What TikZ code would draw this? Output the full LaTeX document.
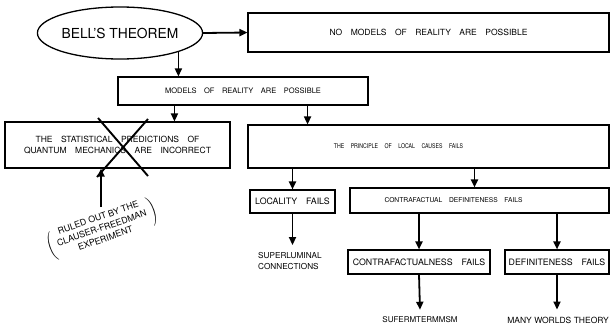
\documentclass[tikz,border=0pt]{standalone}
\usepackage{fontspec}
\setsansfont{TeX Gyre Heros}
\usetikzlibrary{arrows.meta, shapes.geometric}

\newcommand\widesp{\spaceskip 1em\relax}
\tikzset{
  boxtxt/.style={font={\sffamily\fontsize{#1}{#1}\selectfont\widesp}},
  plaintxt/.style={font={\sffamily\fontsize{#1}{#1}\selectfont}},
  narrowtxt/.style={font={\sffamily\addfontfeature{FakeStretch=0.8}\fontsize{#1}{#1}\selectfont\widesp}},
  flowbox/.style={draw, line width=1.1pt, inner sep=0pt},
  arr/.style={line width=1.8pt, -{Triangle[length=8pt,width=7pt]}},
}

\begin{document}
\begin{tikzpicture}[x=1pt, y=-1pt]
  \useasboundingbox (0,0) rectangle (610,327);

  % --- top: theorem and the two alternatives ---
  \node[ellipse, draw, line width=1.3pt, minimum width=145pt, minimum height=52pt, inner sep=0pt,
        plaintxt=13.8] (bell) at (120,33) {BELL'S THEOREM};
  \node[flowbox, boxtxt=8.5, minimum width=361pt, minimum height=39pt] (nomodels) at (428.5,32.5)
    {NO MODELS OF REALITY ARE POSSIBLE};
  \node[flowbox, boxtxt=7.5, minimum width=250pt, minimum height=28pt] (models) at (243,91)
    {MODELS OF REALITY ARE POSSIBLE};

  % --- middle row ---
  \node[flowbox, boxtxt=8.5, align=center, minimum width=225pt, minimum height=46pt] (stat) at (117.5,145)
    {THE STATISTICAL PREDICTIONS OF\\[3pt]QUANTUM MECHANICS ARE INCORRECT};
  \node[flowbox, narrowtxt=6.5, minimum width=361pt, minimum height=43pt] (principle) at (428.5,146.5)
    {THE PRINCIPLE OF LOCAL CAUSES FAILS\hspace*{60pt}};

  % --- lower rows ---
  \node[flowbox, boxtxt=8.8, minimum width=85pt, minimum height=23pt] (locality) at (292.5,201.5)
    {LOCALITY FAILS};
  \node[flowbox, boxtxt=6.7, minimum width=259pt, minimum height=25pt] (cd) at (479.5,200.5)
    {CONTRAFACTUAL DEFINITENESS FAILS\hspace*{52pt}};
  \node[flowbox, boxtxt=8.8, minimum width=142pt, minimum height=24pt] (contra) at (419,262)
    {CONTRAFACTUALNESS FAILS};
  \node[flowbox, boxtxt=8.8, minimum width=104pt, minimum height=24pt] (definite) at (557,262)
    {DEFINITENESS FAILS};

  \node[plaintxt=8.2, align=left, inner sep=0pt, anchor=west] (superlum) at (258,261)
    {SUPERLUMINAL\\[3pt]CONNECTIONS};
  \node[plaintxt=8, inner sep=0pt] (superdet) at (420,320) {SUFERMTERMMSM};
  \node[plaintxt=8.5, inner sep=0pt, anchor=east] (manyworlds) at (609,320) {MANY WORLDS THEORY};

  % ruled-out remark, tilted
  \node[font=\sffamily\fontsize{8.8}{11}\selectfont, rotate=19, inner sep=0pt] (ruled) at (102,229)
    {$\left(\vcenter{\hbox{\begin{tabular}{@{\hspace{3pt}}c@{\hspace{3pt}}}RULED OUT BY THE\\CLAUSER-FREEDMAN\\EXPERIMENT\end{tabular}}}\right)$};
  \coordinate (ruledtip) at (101,207);

  % crossed-out box
  \draw[line width=1.9pt] (98,118) -- (148,176);
  \draw[line width=1.9pt] (148,119) -- (97,177);

  % connectors
  \draw[arr] (bell.east) -- (nomodels.west);
  \draw[arr] (bell.-18) -- (bell.-18 |- models.north);
  \draw[arr] ([xshift=57pt]models.south west) -- ([xshift=57pt]models.south west |- stat.north);
  \draw[arr] ([xshift=-61pt]models.south east) -- ([xshift=-61pt]models.south east |- principle.north);
  \draw[arr] (ruledtip) -- (ruledtip |- stat.south);
  \draw[arr] (locality.north |- principle.south) -- (locality.north);
  \draw[arr] ([xshift=-5pt]cd.north |- principle.south) -- ([xshift=-5pt]cd.north);
  \draw[arr] (locality.south) -- ([yshift=7pt]superlum.north -| locality.south);
  \draw[arr] (contra.north |- cd.south) -- (contra.north);
  \draw[arr] (definite.north |- cd.south) -- (definite.north);
  \draw[arr] (contra.south) -- ([yshift=7pt]superdet.north);
  \draw[arr] (definite.south) -- ([yshift=7pt]definite.south |- manyworlds.north);
\end{tikzpicture}
\end{document}
